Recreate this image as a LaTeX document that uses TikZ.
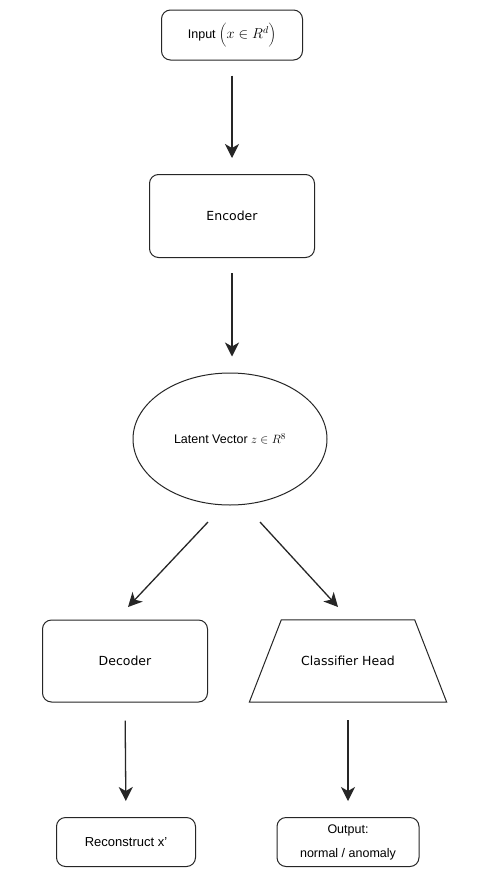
\documentclass[tikz,border=0pt]{standalone}
\usepackage{fontspec}
\setmainfont{Liberation Sans}
\newfontfamily\dejafont{DejaVu Sans}
\usetikzlibrary{arrows.meta,calc}
\usetikzlibrary{shapes.geometric}
\tikzset{
  box/.style={draw=black!85, line width=1pt, rounded corners=9pt, inner sep=0pt, align=center},
  arr/.style={draw=black!85, line width=1.3pt, -{Stealth[length=14pt,width=14pt,inset=4pt]}},
}
\begin{document}
\begin{tikzpicture}[x=1pt,y=-1pt]
\useasboundingbox (0,0) rectangle (478,873);
\fill[white] (0,0) rectangle (478,873);
\node[box, minimum width=141pt, minimum height=50pt, font=\fontsize{12.5}{14}\selectfont] (inp) at (232,35) {Input {\fontsize{14}{16}\selectfont$\biggl(x \in R^{d}\biggr)$}};
\node[box, minimum width=165pt, minimum height=83pt, font=\dejafont\fontsize{12.5}{14}\selectfont] (enc) at (232,216) {Encoder};
\node[draw=black!85, line width=1pt, ellipse, minimum width=194pt, minimum height=132pt, inner sep=0pt, font=\fontsize{12.5}{14}\selectfont] (lat) at (230,439) {Latent Vector $z \in R^{8}$};
\node[box, minimum width=165pt, minimum height=82pt, font=\dejafont\fontsize{12.5}{14}\selectfont] (dec) at (125,661) {Decoder};
\node[minimum width=197pt, minimum height=82pt, inner sep=0pt, font=\dejafont\fontsize{12.5}{14}\selectfont] (cls) at (348,661) {Classifier Head};
\draw[black!85, line width=1pt] ($(cls.north west)+(32,0)$) -- ($(cls.north east)+(-32,0)$) -- (cls.south east) -- (cls.south west) -- cycle;
\node[box, minimum width=139pt, minimum height=49pt, font=\fontsize{13}{15}\selectfont] (rec) at (126,842) {Reconstruct x\symbol{"27}};
\node[box, minimum width=142pt, minimum height=49pt, font=\fontsize{12.5}{24}\selectfont] (out) at (348,842) {Output:\\normal / anomaly};
\coordinate (l1) at (208,522);
\coordinate (l2) at (128,607);
\coordinate (r1) at (260,522);
\coordinate (r2) at (338,607);
\draw[arr, shorten <=15pt, shorten >=16pt] (inp) -- (enc);
\draw[arr, shorten <=15pt, shorten >=16pt] (enc.south) -- (lat.north -| enc.south);
\draw[arr] (l1) -- (l2);
\draw[arr] (r1) -- (r2);
\draw[arr, shorten <=18pt, shorten >=16pt] (dec.south) -- (rec.north);
\draw[arr, shorten <=18pt, shorten >=16pt] (cls.south) -- (out.north);
\end{tikzpicture}
\end{document}
